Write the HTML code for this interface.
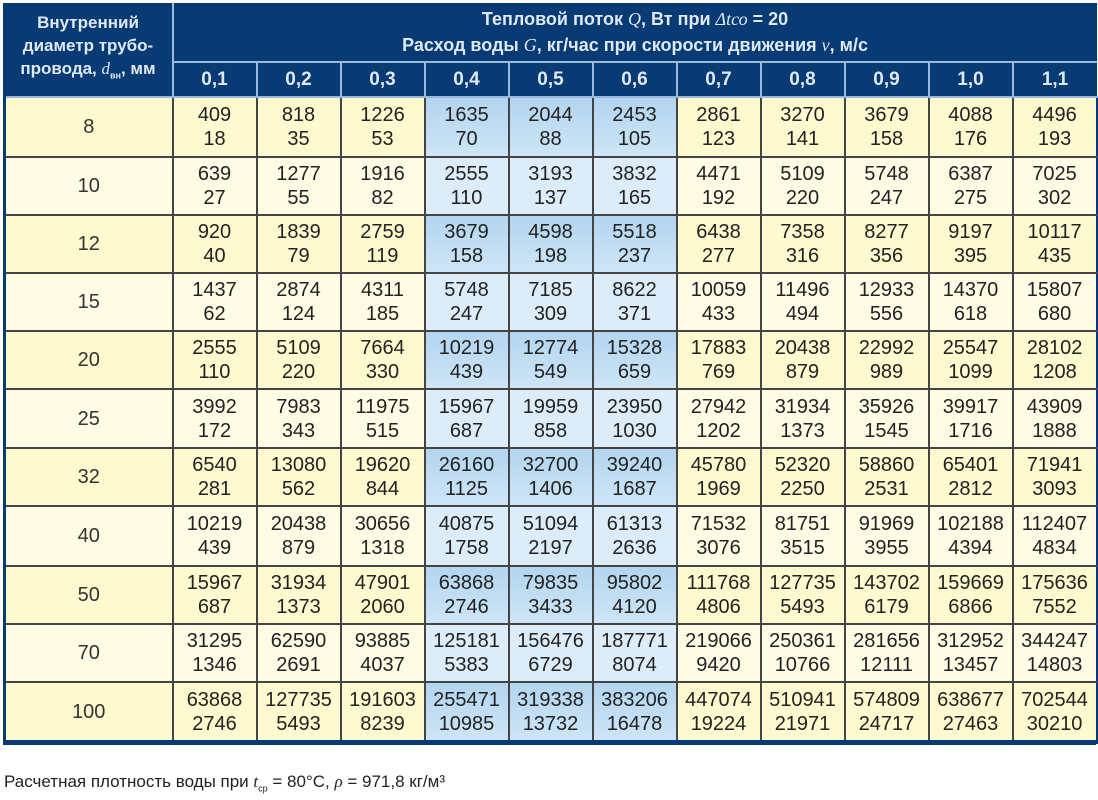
<!DOCTYPE html>
<html><head><meta charset="utf-8"><style>
body{margin:0;width:1098px;height:800px;background:#fff;overflow:hidden;font-family:"Liberation Sans Narrow","Liberation Sans",sans-serif;}
.wrap{position:absolute;left:3px;top:3px;width:1093px;height:742px;background:#083a73;}
table{position:absolute;left:3px;top:3px;border-collapse:collapse;table-layout:fixed;width:1090px;}
td,th{padding:0;text-align:center;}
th{background:#083a73;color:#dfe9f5;font-weight:bold;border-left:2px solid #9ab8da;border-bottom:2px solid #9ab8da;font-size:19px;}
th.f{border-left:none;font-size:17px;line-height:23px;}
th.t{line-height:26px;font-size:18px;border-bottom:2px solid #9ab8da;}
td{font-size:20px;line-height:24px;color:#222;border:2px solid #444;}
td.h{color:#333;border-left:3px solid #083a73;}
tr.o td{background:#fdfacf;}
tr.e td{background:#fffce6;}
tr.o td.b{background:linear-gradient(#b3d5ef,#cde5f6);}
tr.e td.b{background:#dcedf9;}
tr.last td{border-bottom:4px solid #083a73;}
td.r{border-right:2px solid #083a73;}
i{font-family:"Liberation Serif",serif;font-weight:normal}
.note{position:absolute;left:4px;top:772px;font-size:17px;color:#222;}
</style></head><body>
<div class="wrap"></div>
<table>
<colgroup><col style="width:168px"><col span="11" style="width:84px"></colgroup>
<tr style="height:59px"><th class="f" rowspan="2">Внутренний<br>диаметр трубо-<br>провода, <i>d</i><sub style="font-size:9px">вн</sub>, мм</th><th class="t" colspan="11">Тепловой поток <i>Q</i>, Вт при <i>Δtсо</i> = 20<br>Расход воды <i>G</i>, кг/час при скорости движения <i>v</i>, м/с</th></tr>
<tr style="height:35px"><th>0,1</th><th>0,2</th><th>0,3</th><th>0,4</th><th>0,5</th><th>0,6</th><th>0,7</th><th>0,8</th><th>0,9</th><th>1,0</th><th>1,1</th></tr>
<tr class="o" style="height:60px"><td class="h">8</td><td>409<br>18</td><td>818<br>35</td><td>1226<br>53</td><td class="b">1635<br>70</td><td class="b">2044<br>88</td><td class="b">2453<br>105</td><td>2861<br>123</td><td>3270<br>141</td><td>3679<br>158</td><td>4088<br>176</td><td class="r">4496<br>193</td></tr>
<tr class="e" style="height:58px"><td class="h">10</td><td>639<br>27</td><td>1277<br>55</td><td>1916<br>82</td><td class="b">2555<br>110</td><td class="b">3193<br>137</td><td class="b">3832<br>165</td><td>4471<br>192</td><td>5109<br>220</td><td>5748<br>247</td><td>6387<br>275</td><td class="r">7025<br>302</td></tr>
<tr class="o" style="height:58px"><td class="h">12</td><td>920<br>40</td><td>1839<br>79</td><td>2759<br>119</td><td class="b">3679<br>158</td><td class="b">4598<br>198</td><td class="b">5518<br>237</td><td>6438<br>277</td><td>7358<br>316</td><td>8277<br>356</td><td>9197<br>395</td><td class="r">10117<br>435</td></tr>
<tr class="e" style="height:58px"><td class="h">15</td><td>1437<br>62</td><td>2874<br>124</td><td>4311<br>185</td><td class="b">5748<br>247</td><td class="b">7185<br>309</td><td class="b">8622<br>371</td><td>10059<br>433</td><td>11496<br>494</td><td>12933<br>556</td><td>14370<br>618</td><td class="r">15807<br>680</td></tr>
<tr class="o" style="height:58px"><td class="h">20</td><td>2555<br>110</td><td>5109<br>220</td><td>7664<br>330</td><td class="b">10219<br>439</td><td class="b">12774<br>549</td><td class="b">15328<br>659</td><td>17883<br>769</td><td>20438<br>879</td><td>22992<br>989</td><td>25547<br>1099</td><td class="r">28102<br>1208</td></tr>
<tr class="e" style="height:59px"><td class="h">25</td><td>3992<br>172</td><td>7983<br>343</td><td>11975<br>515</td><td class="b">15967<br>687</td><td class="b">19959<br>858</td><td class="b">23950<br>1030</td><td>27942<br>1202</td><td>31934<br>1373</td><td>35926<br>1545</td><td>39917<br>1716</td><td class="r">43909<br>1888</td></tr>
<tr class="o" style="height:58px"><td class="h">32</td><td>6540<br>281</td><td>13080<br>562</td><td>19620<br>844</td><td class="b">26160<br>1125</td><td class="b">32700<br>1406</td><td class="b">39240<br>1687</td><td>45780<br>1969</td><td>52320<br>2250</td><td>58860<br>2531</td><td>65401<br>2812</td><td class="r">71941<br>3093</td></tr>
<tr class="e" style="height:60px"><td class="h">40</td><td>10219<br>439</td><td>20438<br>879</td><td>30656<br>1318</td><td class="b">40875<br>1758</td><td class="b">51094<br>2197</td><td class="b">61313<br>2636</td><td>71532<br>3076</td><td>81751<br>3515</td><td>91969<br>3955</td><td>102188<br>4394</td><td class="r">112407<br>4834</td></tr>
<tr class="o" style="height:58px"><td class="h">50</td><td>15967<br>687</td><td>31934<br>1373</td><td>47901<br>2060</td><td class="b">63868<br>2746</td><td class="b">79835<br>3433</td><td class="b">95802<br>4120</td><td>111768<br>4806</td><td>127735<br>5493</td><td>143702<br>6179</td><td>159669<br>6866</td><td class="r">175636<br>7552</td></tr>
<tr class="e" style="height:58px"><td class="h">70</td><td>31295<br>1346</td><td>62590<br>2691</td><td>93885<br>4037</td><td class="b">125181<br>5383</td><td class="b">156476<br>6729</td><td class="b">187771<br>8074</td><td>219066<br>9420</td><td>250361<br>10766</td><td>281656<br>12111</td><td>312952<br>13457</td><td class="r">344247<br>14803</td></tr>
<tr class="o last" style="height:60px"><td class="h">100</td><td>63868<br>2746</td><td>127735<br>5493</td><td>191603<br>8239</td><td class="b">255471<br>10985</td><td class="b">319338<br>13732</td><td class="b">383206<br>16478</td><td>447074<br>19224</td><td>510941<br>21971</td><td>574809<br>24717</td><td>638677<br>27463</td><td class="r">702544<br>30210</td></tr>
</table>
<div class="note">Расчетная плотность воды при <i>t</i><sub style="font-size:9px">ср</sub> = 80°C, <i>ρ</i> = 971,8 кг/м³</div>
</body></html>
